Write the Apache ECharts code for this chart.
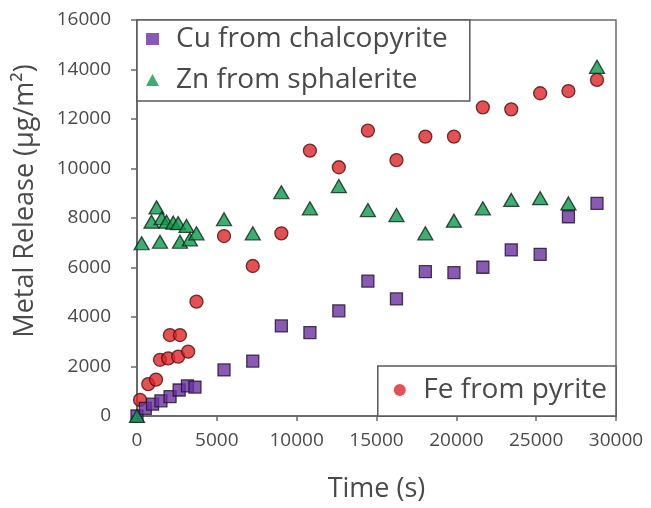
<!DOCTYPE html>
<html>
<head>
<meta charset="utf-8">
<script src="https://cdn.jsdelivr.net/npm/echarts@6/dist/echarts.min.js"></script>
<style>
  html, body { margin: 0; padding: 0; background: #ffffff; }
  #chart { width: 651px; height: 508px; }
</style>
</head>
<body>
<div id="chart"></div>
<script>
// Metal release over time from three sulfide minerals.
const FONT = '"Open Sans", "Liberation Sans", sans-serif';

// Axis ticks
const xTickValues = [0, 5000, 10000, 15000, 20000, 25000, 30000];
const yTickValues = [0, 2000, 4000, 6000, 8000, 10000, 12000, 14000, 16000];

// Fe from pyrite
const feTime    = [190, 705, 1190, 1440, 1955, 2580, 3205, 2060, 2690, 3725,
                   5450, 7250, 9040, 10830, 12640, 14460, 16250, 18060, 19850, 21660, 23440, 25250, 27020, 28810];
const feRelease = [650, 1290, 1470, 2270, 2330, 2400, 2600, 3270, 3270, 4620,
                   7270, 6060, 7380, 10720, 10050, 11530, 10340, 11290, 11290, 12470, 12390, 13040, 13130, 13580];

// Cu from chalcopyrite
const cuTime    = [0, 520, 975, 1500, 2070, 2640, 3160, 3630,
                   5450, 7250, 9040, 10830, 12640, 14460, 16250, 18060, 19850, 21660, 23440, 25250, 27020, 28810];
const cuRelease = [0, 310, 480, 615, 780, 1050, 1220, 1170,
                   1860, 2220, 3640, 3370, 4250, 5450, 4730, 5830, 5790, 6010, 6710, 6530, 8050, 8590];

// Zn from sphalerite
const znTime    = [0, 290, 910, 1225, 1440, 1540, 1850, 2270, 2580, 2690, 3100, 3310, 3725,
                   5450, 7250, 9040, 10830, 12640, 14460, 16250, 18060, 19850, 21660, 23440, 25250, 27020, 28810];
const znRelease = [0, 6980, 7850, 8430, 7040, 7990, 7850, 7810, 7790, 7040, 7680, 7140, 7380,
                   7950, 7380, 9040, 8390, 9290, 8320, 8120, 7380, 7890, 8390, 8730, 8800, 8590, 14110];

const pairs = (xs, ys) => xs.map((x, i) => [x, ys[i]]);
const plain = v => String(v);

const AXIS_COLOR = '#6b6b6b';
const TEXT_COLOR = '#4a4a4a';

const chart = echarts.init(document.getElementById('chart'), null, { renderer: 'canvas' });

const legendCommon = {
  orient: 'vertical',
  backgroundColor: '#ffffff',
  borderColor: '#5a5a5a',
  borderWidth: 1.5,
  borderRadius: 0,
  itemWidth: 13,
  itemHeight: 12,
  selectedMode: false,
  textStyle: { fontFamily: FONT, fontSize: 28, color: TEXT_COLOR, padding: [0, 0, 0, 12] }
};

chart.setOption({
  animation: false,
  backgroundColor: '#ffffff',
  grid: {
    left: 137, top: 20, right: 35, bottom: 92,
    show: true, borderColor: AXIS_COLOR, borderWidth: 1.5, backgroundColor: 'transparent'
  },
  legend: [
    Object.assign({}, legendCommon, {
      data: [
        { name: 'Cu from chalcopyrite', itemStyle: { borderWidth: 0 } },
        { name: 'Zn from sphalerite', itemStyle: { borderWidth: 0 } }
      ],
      left: 137, top: 20,
      padding: [5, 22, 7, 9],
      itemGap: 13
    }),
    Object.assign({}, legendCommon, {
      data: [{ name: 'Fe from pyrite', itemStyle: { borderWidth: 0 } }],
      right: 35, bottom: 92,
      padding: [10, 9, 12, 16]
    })
  ],
  xAxis: {
    type: 'value',
    min: xTickValues[0], max: xTickValues[xTickValues.length - 1],
    interval: xTickValues[1] - xTickValues[0],
    name: 'Time (s)',
    nameLocation: 'middle',
    nameGap: 60,
    nameTextStyle: { fontFamily: FONT, fontSize: 27, color: TEXT_COLOR },
    axisLine: { show: true, onZero: false, lineStyle: { color: AXIS_COLOR, width: 2 } },
    axisTick: { show: true, inside: false, length: 5, lineStyle: { color: AXIS_COLOR, width: 1.5 } },
    axisLabel: { fontFamily: FONT, fontSize: 19, color: TEXT_COLOR, margin: 15, formatter: plain },
    splitLine: { show: false }
  },
  yAxis: {
    type: 'value',
    min: yTickValues[0], max: yTickValues[yTickValues.length - 1],
    interval: yTickValues[1] - yTickValues[0],
    name: 'Metal Release (μg/m²)',
    nameLocation: 'middle',
    nameGap: 98,
    nameTextStyle: { fontFamily: FONT, fontSize: 27, color: TEXT_COLOR, padding: [0, 0, 0, 34] },
    axisLine: { show: true, onZero: false, lineStyle: { color: AXIS_COLOR, width: 2 } },
    axisTick: { show: true, inside: false, length: 6, lineStyle: { color: AXIS_COLOR, width: 1.5 } },
    axisLabel: { fontFamily: FONT, fontSize: 19, color: TEXT_COLOR, margin: 26, formatter: plain },
    splitLine: { show: false }
  },
  series: [
    {
      name: 'Fe from pyrite',
      type: 'scatter',
      symbol: 'circle',
      symbolSize: 13,
      itemStyle: { color: '#de2428', borderColor: '#4d0e0e', borderWidth: 1.3 },
      data: pairs(feTime, feRelease)
    },
    {
      name: 'Cu from chalcopyrite',
      type: 'scatter',
      symbol: 'rect',
      symbolSize: 12,
      itemStyle: { color: '#6a31a0', borderColor: '#20122e', borderWidth: 1.3 },
      data: pairs(cuTime, cuRelease)
    },
    {
      name: 'Zn from sphalerite',
      type: 'scatter',
      symbol: 'triangle',
      symbolSize: [15, 13],
      itemStyle: { color: '#0d984c', borderColor: '#0a2614', borderWidth: 1.3 },
      data: pairs(znTime, znRelease)
    }
  ]
});
</script>
</body>
</html>
